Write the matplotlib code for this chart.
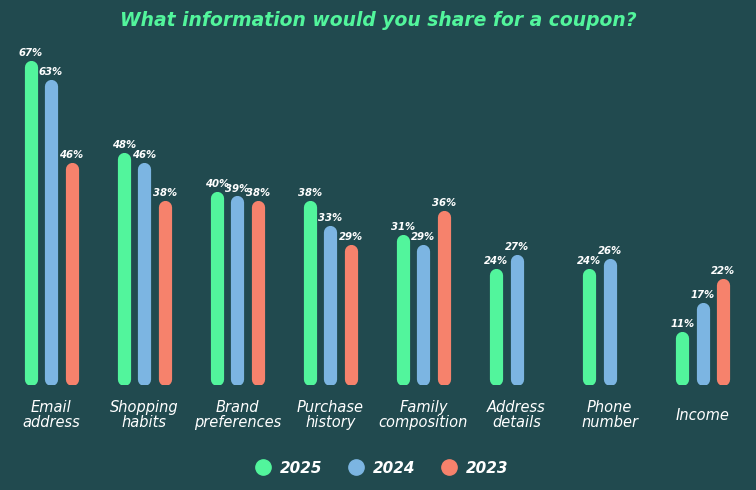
import numpy as np
import matplotlib.pyplot as plt
from matplotlib.lines import Line2D

categories = ["Email\naddress", "Shopping\nhabits", "Brand\npreferences", "Purchase\nhistory",
              "Family\ncomposition", "Address\ndetails", "Phone\nnumber", "Income"]
v2025 = [67, 48, 40, 38, 31, 24, 24, 11]
v2024 = [63, 46, 39, 33, 29, 27, 26, 17]
v2023 = [46, 38, 38, 29, 36, None, None, 22]

BG = "#214a4f"
colors = {"2025": "#52f59c", "2024": "#7cb5e2", "2023": "#f6826c"}

fig = plt.figure(figsize=(7.56, 4.9), dpi=100, facecolor=BG)
ax = fig.add_axes([0, 0.214, 1, 0.786])
ax.set_facecolor(BG)
ax.set_xlim(0, 756)
ax.set_ylim(0, 79.6)
ax.axis("off")

cap = 1.25
centers = 51 + 93.1 * np.arange(len(categories))
for off, (name, vals) in zip([-20.5, 0, 20.5], [("2025", v2025), ("2024", v2024), ("2023", v2023)]):
    for c, v in zip(centers, vals):
        if v is None:
            continue
        ax.plot([c + off, c + off], [cap, v - cap], color=colors[name], lw=9.5,
                solid_capstyle="round")
        ax.text(c + off, v + 0.6, f"{v}%", color="white", fontsize=7.3, fontweight="bold",
                fontstyle="italic", ha="center", va="bottom")

for c, lab in zip(centers, categories):
    fig.text(c / 756, 1 - 415 / 490, lab, color="white", fontsize=10.5, fontstyle="italic",
             ha="center", va="center", linespacing=1.0)

fig.text(0.5, 1 - 20 / 490, "What information would you share for a coupon?", color="#52f59c",
         fontsize=13.5, fontweight="bold", fontstyle="italic", ha="center", va="center")

handles = [Line2D([], [], marker="o", ls="", markersize=11, color=colors[k]) for k in colors]
leg = fig.legend(handles, list(colors), loc="center", bbox_to_anchor=(0.5, 1 - 468 / 490),
                 ncol=3, frameon=False, handletextpad=0.1, columnspacing=1.2,
                 prop={"weight": "bold", "style": "italic", "size": 11})
for t in leg.get_texts():
    t.set_color("white")

fig.savefig("out.png", facecolor=BG)
